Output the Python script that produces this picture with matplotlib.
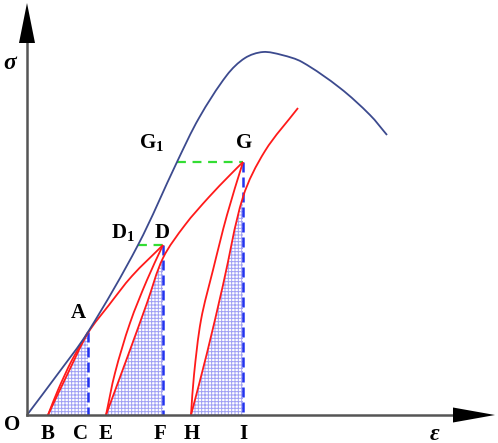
import numpy as np
import matplotlib
matplotlib.use("Agg")
import matplotlib.pyplot as plt
from matplotlib.path import Path
from matplotlib.patches import PathPatch

# ---------------- data (schematic units) ----------------
# envelope (blue) stress-strain curve
blue_x = [0.00, 0.30, 0.61, 1.11, 1.50, 1.72, 2.00, 2.18, 2.36, 2.55, 2.75, 3.13, 3.43, 3.60]
blue_y = [0.00, 0.40, 0.83, 1.70, 2.53, 2.97, 3.40, 3.57, 3.63, 3.60, 3.53, 3.27, 3.00, 2.80]

# reloading curves (red) starting at B, E, H
reload1_x = [0.21, 0.41, 0.61, 0.82, 1.05, 1.36]
reload1_y = [0.00, 0.42, 0.82, 1.10, 1.39, 1.70]
reload2_x = [0.79, 1.03, 1.20, 1.36, 1.58, 1.82, 2.03, 2.16]
reload2_y = [0.00, 0.65, 1.12, 1.57, 1.90, 2.18, 2.40, 2.53]
reload3_x = [1.64, 1.80, 1.96, 2.16, 2.38, 2.71]
reload3_y = [0.00, 0.62, 1.30, 2.18, 2.64, 3.07]

# unloading curves (red) from A, D, G
unload1_x = [0.61, 0.45, 0.31, 0.21]
unload1_y = [0.83, 0.55, 0.25, 0.00]
unload2_x = [1.36, 1.20, 1.03, 0.88, 0.79]
unload2_y = [1.70, 1.35, 0.92, 0.42, 0.00]
unload3_x = [2.16, 2.00, 1.86, 1.74, 1.67, 1.64]
unload3_y = [2.53, 2.00, 1.45, 0.95, 0.40, 0.00]

# peak points A, D, G  and their strain positions C, F, I
peak_x = [0.61, 1.36, 2.16]
peak_y = [0.83, 1.70, 2.53]
# knot of each reload curve lying on the dashed line (hatch top)
hatch_knot = [2, 3, 3]

# equal-stress points on the blue curve (D1, G1)
eq_x = [1.11, 1.50]
eq_y = [1.70, 2.53]

# axis labels
axis_pts = {"O": 0.0, "B": 0.21, "C": 0.61, "E": 0.79, "F": 1.36, "H": 1.64, "I": 2.16}

X_END = 4.68
Y_END = 4.12

# ---------------- helpers ----------------
def smooth(xs, ys):
    """Non-uniform (chordal) Catmull-Rom through the points, as cubic Bezier path."""
    P = np.column_stack([xs, ys]).astype(float)
    n = len(P)
    d = np.hypot(*np.diff(P, axis=0).T)
    t = np.concatenate([[0], np.cumsum(d)])
    m = np.zeros_like(P)
    m[0] = (P[1] - P[0]) / (t[1] - t[0])
    m[-1] = (P[-1] - P[-2]) / (t[-1] - t[-2])
    for i in range(1, n - 1):
        m[i] = (P[i + 1] - P[i - 1]) / (t[i + 1] - t[i - 1])
    verts = [P[0]]
    codes = [Path.MOVETO]
    for i in range(n - 1):
        h = t[i + 1] - t[i]
        verts += [P[i] + m[i] * h / 3, P[i + 1] - m[i + 1] * h / 3, P[i + 1]]
        codes += [Path.CURVE4] * 3
    return verts, codes

plt.rcParams['mathtext.fontset'] = 'custom'
plt.rcParams['mathtext.rm'] = 'Liberation Serif:bold'
plt.rcParams['hatch.linewidth'] = 0.7

fig = plt.figure(figsize=(4.98, 4.43), dpi=100)
ax = fig.add_axes([0, 0, 1, 1])
ax.set_xlim(-0.27, 4.71)
ax.set_ylim(-0.28, 4.15)
ax.axis('off')

RED = '#ff1a1a'
BLUE = '#3c4a8e'
DASH_BLUE = '#2233ee'
GREEN = '#33dd33'

reloads = [(reload1_x, reload1_y), (reload2_x, reload2_y), (reload3_x, reload3_y)]
unloads = [(unload1_x, unload1_y), (unload2_x, unload2_y), (unload3_x, unload3_y)]

# hatched regions
for (rx, ry), k, px in zip(reloads, hatch_knot, peak_x):
    v, c = smooth(rx, ry)
    v = v[:1 + 3 * k] + [(px, 0.0), (rx[0], ry[0])]
    c = c[:1 + 3 * k] + [Path.LINETO, Path.CLOSEPOLY]
    ax.add_patch(PathPatch(Path(v, c), facecolor='none', edgecolor='#a0a0f4',
                           hatch='+++++', lw=0, zorder=1))

# vertical dashed lines
for px, py in zip(peak_x, peak_y):
    ax.plot([px, px], [py, 0], color=DASH_BLUE, lw=1.8, ls=(0, (4, 2)), zorder=2)

# green dashed lines
for ex, ey, px in zip(eq_x, eq_y, peak_x[1:]):
    ax.plot([ex, px], [ey, ey], color=GREEN, lw=1.6, ls=(0, (4, 3)), zorder=2)

# red curves
for rx, ry in reloads + unloads:
    v, c = smooth(rx, ry)
    ax.add_patch(PathPatch(Path(v, c), facecolor='none', edgecolor=RED, lw=1.3, zorder=3))

# blue curve
v, c = smooth(blue_x, blue_y)
ax.add_patch(PathPatch(Path(v, c), facecolor='none', edgecolor=BLUE, lw=1.3, zorder=3))

# axes with arrows
ax.plot([0, X_END - 0.3], [0, 0], color='#555555', lw=1.8, zorder=4)
ax.plot([0, 0], [0, Y_END - 0.3], color='#555555', lw=1.8, zorder=4)
ax.fill([X_END - 0.42, X_END, X_END - 0.42], [0.075, 0, -0.075], color='black', zorder=5, lw=0)
ax.fill([-0.08, 0, 0.08], [Y_END - 0.40, Y_END, Y_END - 0.40], color='black', zorder=5, lw=0)

# labels
lab = dict(fontsize=15, fontweight='bold', family='Liberation Serif', ha='center', va='center')
offs = {"O": -0.15, "C": -0.08, "F": -0.03, "H": 0.01}
for name, x in axis_pts.items():
    y = -0.10 if name == "O" else -0.19
    ax.text(x + offs.get(name, 0.0), y, name, **lab)

ax.text(peak_x[0] - 0.10, peak_y[0] + 0.19, "A", **lab)
ax.text(peak_x[1] - 0.01, peak_y[1] + 0.12, "D", **lab)
ax.text(peak_x[2] + 0.01, peak_y[2] + 0.19, "G", **lab)
ax.text(eq_x[0] - 0.15, eq_y[0] + 0.12, r"D$_\mathrm{1}$", **lab)
ax.text(eq_x[1] - 0.25, eq_y[1] + 0.19, r"G$_\mathrm{1}$", **lab)

ax.text(-0.17, 3.52, "σ", fontsize=17, fontweight='bold', style='italic',
        family='Liberation Serif', ha='center', va='center')
ax.text(4.08, -0.19, "ε", fontsize=17, fontweight='bold', style='italic',
        family='Liberation Serif', ha='center', va='center')

fig.savefig("out.png", dpi=100)
